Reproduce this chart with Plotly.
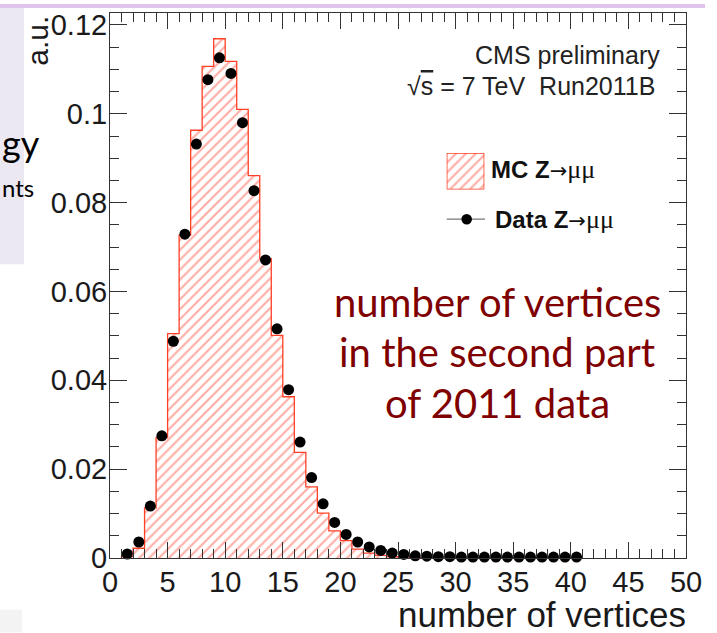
import plotly.graph_objects as go

# ---------------------------------------------------------------
# Primary vertex multiplicity, Z -> mumu, Run2011B (unit area)
# ---------------------------------------------------------------
bin_low_edges = list(range(1, 41))          # bins [n, n+1)

mc_zmumu = [
    0.0003, 0.0022, 0.0113, 0.0271, 0.0505, 0.0727, 0.0963, 0.1107, 0.1169, 0.1118,
    0.1010, 0.0861, 0.0674, 0.0501, 0.0363, 0.0238, 0.0160, 0.0101, 0.0061, 0.0039,
    0.0020, 0.0011, 0.0006, 0.0003, 0.0002, 0.0001, 0.0001, 0.0, 0.0, 0.0,
    0.0, 0.0, 0.0, 0.0, 0.0, 0.0, 0.0, 0.0, 0.0, 0.0,
]

data_zmumu = [
    0.0009, 0.0036, 0.0117, 0.0275, 0.0488, 0.0729, 0.0932, 0.1077, 0.1126, 0.1091,
    0.0980, 0.0827, 0.0671, 0.0516, 0.0379, 0.0261, 0.0181, 0.0122, 0.0080, 0.0053,
    0.0036, 0.0025, 0.0017, 0.0011, 0.0008, 0.0005, 0.0004, 0.0003, 0.0003, 0.0002,
    0.0002, 0.0002, 0.0002, 0.0002, 0.0002, 0.0002, 0.0002, 0.0002, 0.0002, 0.0002,
]

x_tick_values = list(range(0, 51, 5))
y_tick_values = [0, 0.02, 0.04, 0.06, 0.08, 0.1, 0.12]
y_max = 0.1227

x_title = "number of vertices"
y_title = "a.u."
cms_label = "CMS preliminary"
energy_label = "√<span style='text-decoration:overline'>s</span> = 7 TeV\u00a0\u00a0Run2011B"
note_lines = ["number of vertices", "in the second part", "of 2011 data"]

# ---------------------------------------------------------------
# canvas geometry (pixels)
# ---------------------------------------------------------------
W, H = 717, 633
ML, MR, MT, MB = 110, 31, 9, 75
PW, PH = W - ML - MR, H - MT - MB


def px_x(px):
    return (px - ML) / PW


def px_y(py):
    return (MT + PH - py) / PH


HATCH = "#ff5b4b"
OUTLINE = "#ff4026"
SANS = "Liberation Sans, Arial, sans-serif"
SERIF = "Liberation Serif, Times New Roman, serif"
NOTE_RED = "#7f0000"

centres = [e + 0.5 for e in bin_low_edges]
edges = bin_low_edges + [bin_low_edges[-1] + 1]

# step outline of the MC histogram
step_x = [edges[0]] + edges
step_y = [0.0] + mc_zmumu + [0.0]

hatch_marker = dict(
    color=HATCH,
    line=dict(width=0),
    pattern=dict(shape="/", size=7, solidity=0.3,
                 fgcolor=HATCH, bgcolor="rgba(0,0,0,0)"),
)

fig = go.Figure()

fig.add_trace(go.Bar(
    x=centres, y=mc_zmumu, width=1.0, marker=hatch_marker,
    showlegend=False, hoverinfo="skip",
))

fig.add_trace(go.Scatter(
    x=step_x, y=step_y, mode="lines",
    line=dict(shape="hv", color=OUTLINE, width=1.3),
    showlegend=False, hoverinfo="skip",
))

fig.add_trace(go.Scatter(
    x=centres, y=data_zmumu, mode="markers",
    marker=dict(size=11, color="black"),
    cliponaxis=False, showlegend=False,
))

# hatched swatch for the MC legend entry, on its own small axes
sw_x0, sw_x1, sw_y0, sw_y1 = 446.7, 484.3, 150.0, 186.7
fig.add_trace(go.Bar(
    x=[0.5], y=[1.0], width=[1.0], xaxis="x2", yaxis="y2", marker=hatch_marker,
    showlegend=False, hoverinfo="skip",
))

axis_common = dict(
    showgrid=False, zeroline=False, showline=True, linecolor="#333", linewidth=1,
    mirror="allticks", ticks="inside", tickcolor="#333", tickwidth=1,
    tickfont=dict(family=SANS, size=29, color="#1a1a1a"),
)

fig.update_layout(
    width=W, height=H,
    margin=dict(l=ML, r=MR, t=MT, b=MB),
    paper_bgcolor="white", plot_bgcolor="white",
    bargap=0, showlegend=False,
    xaxis=dict(
        range=[0, 50], tickvals=x_tick_values, ticklen=16,
        minor=dict(dtick=1, tick0=0, ticks="inside", ticklen=9, tickcolor="#333"),
        ticklabelstandoff=-2,
        **axis_common,
    ),
    yaxis=dict(
        range=[0, y_max], tickvals=y_tick_values, ticklen=17,
        minor=dict(dtick=0.005, tick0=0, ticks="inside", ticklen=9, tickcolor="#333"),
        ticklabelstandoff=-4,
        **axis_common,
    ),
    xaxis2=dict(domain=[px_x(sw_x0), px_x(sw_x1)], range=[0, 1], visible=False,
                anchor="y2", fixedrange=True),
    yaxis2=dict(domain=[px_y(sw_y1), px_y(sw_y0)], range=[0, 1], visible=False,
                anchor="x2", fixedrange=True),
)

shapes = [
    # slide remnants around the pasted plot
    dict(type="rect", xref="paper", yref="paper", layer="below",
         x0=px_x(0), x1=px_x(705), y0=px_y(4), y1=px_y(0),
         fillcolor="#dfc3ea", line=dict(width=0)),
    dict(type="rect", xref="paper", yref="paper", layer="below",
         x0=px_x(0), x1=px_x(24), y0=px_y(262), y1=px_y(4),
         fillcolor="#ebe8f2", line=dict(width=0)),
    dict(type="rect", xref="paper", yref="paper", layer="below",
         x0=px_x(0), x1=px_x(22), y0=px_y(633), y1=px_y(610),
         fillcolor="#f3f3f3", line=dict(width=0)),
    # legend: MC swatch border
    dict(type="rect", xref="x2", yref="y2", x0=0, x1=1, y0=0, y1=1,
         line=dict(color=OUTLINE, width=1.5)),
    # legend: data marker with line
    dict(type="line", xref="paper", yref="paper",
         x0=px_x(446.7), x1=px_x(485), y0=px_y(216.7), y1=px_y(216.7),
         line=dict(color="#777", width=1.2)),
    dict(type="circle", xref="paper", yref="paper",
         x0=px_x(466.7 - 5.3), x1=px_x(466.7 + 5.3),
         y0=px_y(216.7 + 5.3), y1=px_y(216.7 - 5.3),
         fillcolor="black", line=dict(width=0)),
]
fig.update_layout(shapes=shapes)


def note(text, x, y, xanchor, size, color="black", family=SANS, angle=0):
    fig.add_annotation(
        text=text, xref="paper", yref="paper", x=px_x(x), y=px_y(y),
        xanchor=xanchor, yanchor="middle", showarrow=False, textangle=angle,
        font=dict(family=family, size=size, color=color),
    )


# axis titles, ROOT style (right / top aligned)
note(x_title, 688, 615, "right", 35, "#1a1a1a")
note(y_title, 38, 37, "center", 30, "#1a1a1a", angle=-90)

# experiment labels
note(cms_label, 662, 51, "right", 25, "#222")
note(energy_label, 657, 83, "right", 25, "#222")

# legend labels
arrow_mu = (
    "<span style='font-family:DejaVu Sans; font-size:21px'>→</span>"
    f"<span style='font-family:{SERIF}; font-size:26px'>μμ</span>"
)
note(f"<b>MC Z</b>{arrow_mu}", 489, 167, "left", 24, "#111")
note(f"<b>Data Z</b>{arrow_mu}", 492.7, 217, "left", 24, "#111")

# red explanatory note
for line_text, y_mid in zip(note_lines, [300, 350, 402]):
    note(line_text, 497, y_mid, "center", 40, NOTE_RED, family="Lato, sans-serif")

# clipped slide text on the left edge
note("gy", 42, 140, "right", 36, "black", family="Lato, sans-serif")
note("nts", 36, 185, "right", 24, "black", family="Lato, sans-serif")

fig.write_html("out.html")
